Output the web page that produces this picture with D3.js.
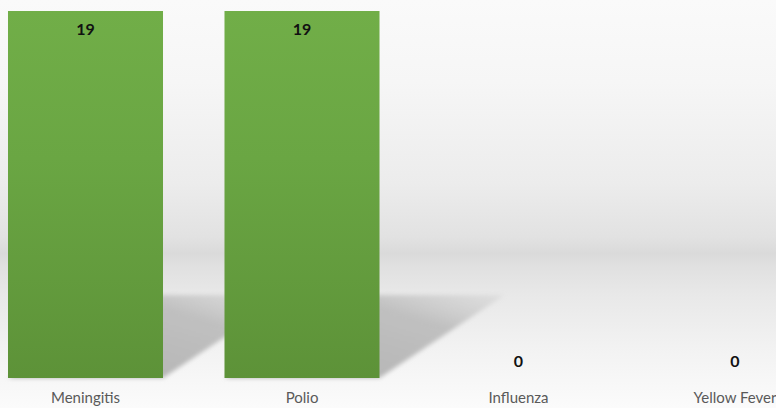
<!DOCTYPE html>
<html><head><meta charset="utf-8">
<script src="https://cdn.jsdelivr.net/npm/d3@7"></script>
<style>html,body{margin:0;padding:0;background:#fff;overflow:hidden}</style>
</head><body>
<svg id="c" width="776" height="408"></svg>
<script>
const categories = ["Meningitis", "Polio", "Influenza", "Yellow Fever"];
const values = [19, 19, 0, 0];

const W = 776, H = 408;
const svg = d3.select("#c");
const defs = svg.append("defs");

const wall = defs.append("linearGradient").attr("id","wall").attr("x1",0).attr("y1",0).attr("x2",0).attr("y2",1);
[[0,"#fafafa"],[0.2,"#f6f6f6"],[0.45,"#ececec"],[0.58,"#e2e2e2"],[0.62,"#dadada"],[0.65,"#e0e0e0"],[0.72,"#e8e8e8"],[0.85,"#f2f2f2"],[1,"#fbfbfb"]]
  .forEach(([o,c])=>wall.append("stop").attr("offset",o).attr("stop-color",c));
svg.append("rect").attr("width",W).attr("height",H).attr("fill","url(#wall)");

const barGrad = defs.append("linearGradient").attr("id","bar").attr("x1",0).attr("y1",0).attr("x2",0).attr("y2",1);
barGrad.append("stop").attr("offset",0).attr("stop-color","#71ae48");
barGrad.append("stop").attr("offset",0.4).attr("stop-color","#6aa643");
barGrad.append("stop").attr("offset",1).attr("stop-color","#5d9238");

const shGrad = defs.append("linearGradient").attr("id","sh").attr("x1",0).attr("y1",1).attr("x2",1).attr("y2",0);
shGrad.append("stop").attr("offset",0).attr("stop-color","#a8a8a8").attr("stop-opacity",0.9);
shGrad.append("stop").attr("offset",0.7).attr("stop-color","#b8b8b8").attr("stop-opacity",0.85);
shGrad.append("stop").attr("offset",1).attr("stop-color","#c8c8c8").attr("stop-opacity",0.3);
defs.append("filter").attr("id","blur").attr("x","-20%").attr("y","-20%").attr("width","140%").attr("height","140%")
  .append("feGaussianBlur").attr("stdDeviation",2);

const x = d3.scaleBand().domain(categories).range([-22.75, 843.25]).paddingInner(0.284).paddingOuter(0.142);
const y = d3.scaleLinear().domain([0, 19]).range([378, 11]);
const data = categories.map((c,i)=>({c,v:values[i]}));

// shadows
const dx = 125, shadowTop = 295;
svg.append("g").selectAll("path").data(data.filter(d=>d.v>0))
  .join("path")
  .attr("d", d => {
    const x0 = x(d.c), x1 = x0 + x.bandwidth(), yb = y(0);
    return `M${x0},${yb}L${x1},${yb}L${x1+dx},${shadowTop}L${x0+dx},${shadowTop}Z`;
  })
  .attr("fill","url(#sh)").attr("filter","url(#blur)");

// bars
svg.append("g").selectAll("rect").data(data)
  .join("rect")
  .attr("x", d => x(d.c)).attr("width", x.bandwidth())
  .attr("y", d => y(d.v)).attr("height", d => y(0) - y(d.v))
  .attr("fill","url(#bar)");

// value labels
svg.append("g").selectAll("text").data(data)
  .join("text")
  .attr("x", d => x(d.c) + x.bandwidth()/2)
  .attr("y", d => d.v > 0 ? y(d.v) + 24 : y(0) - 11)
  .attr("text-anchor","middle")
  .attr("font-family","Lato, 'Open Sans', sans-serif").attr("font-weight","bold").attr("font-size",16)
  .attr("fill","#111")
  .text(d => d.v);

// category axis
const ax = svg.append("g").attr("transform",`translate(0,${y(0)})`)
  .call(d3.axisBottom(x).tickSize(0).tickPadding(14));
ax.select(".domain").remove();
ax.selectAll("text").attr("font-family","Lato, 'Open Sans', sans-serif").attr("font-size",15).attr("fill","#595959");
</script>
</body></html>
